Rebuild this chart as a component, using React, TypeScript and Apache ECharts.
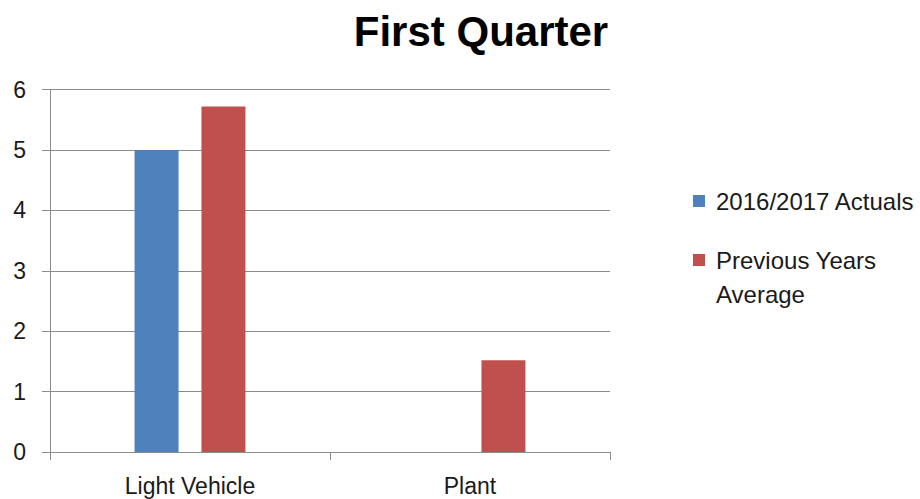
import React, { useEffect, useRef } from "react";
import * as echarts from "echarts";

const categories = ["Light Vehicle", "Plant"];
const actuals: (number | string)[] = [5, "-"];
const previousAvg = [5.72, 1.52];
const seriesNames = ["2016/2017 Actuals", "Previous Years"];
const yTicks = { min: 0, max: 6, interval: 1 };

const FONT = "'Liberation Sans', Arial, sans-serif";

export default function App() {
  const ref = useRef<HTMLDivElement>(null);
  useEffect(() => {
    if (!ref.current) return;
    const chart = echarts.init(ref.current, null, { renderer: "svg" });
    chart.setOption({
      animation: false,
      backgroundColor: "#ffffff",
      title: {
        text: "First Quarter",
        left: 476,
        top: 5,
        textAlign: "center",
        textStyle: { fontFamily: FONT, fontSize: 42, fontWeight: "bold", color: "#000" },
      },
      legend: {
        orient: "vertical",
        left: 693,
        top: 187,
        padding: 0,
        itemWidth: 12,
        itemHeight: 12,
        itemGap: 31,
        icon: "rect",
        data: seriesNames,
        textStyle: { fontFamily: FONT, fontSize: 24, color: "#1a1a1a", lineHeight: 28, padding: [0, 0, 0, 6] },
      },
      graphic: [
        {
          type: "text",
          x: 716,
          y: 294,
          style: { text: "Average", font: `24px ${FONT}`, fill: "#1a1a1a", verticalAlign: "middle" },
        },
      ],
      grid: { left: 50, right: 310, top: 89.5, bottom: 47, containLabel: false },
      xAxis: {
        type: "category",
        data: categories,
        axisLine: { lineStyle: { color: "#8c8c8c", width: 1 } },
        axisTick: { show: true, length: 8, lineStyle: { color: "#8c8c8c" } },
        axisLabel: { fontFamily: FONT, fontSize: 23, color: "#1a1a1a", margin: 22 },
      },
      yAxis: {
        type: "value",
        min: yTicks.min,
        max: yTicks.max,
        interval: yTicks.interval,
        axisLine: { show: true, lineStyle: { color: "#8c8c8c", width: 1 } },
        axisTick: { show: true, length: 8, lineStyle: { color: "#8c8c8c" } },
        splitLine: { lineStyle: { color: "#8c8c8c", width: 1 } },
        axisLabel: { fontFamily: FONT, fontSize: 23, color: "#1a1a1a", margin: 24 },
      },
      series: [
        {
          name: seriesNames[0],
          type: "bar",
          data: actuals,
          barWidth: 44,
          barGap: "52%",
          itemStyle: { color: "#4F81BD" },
        },
        {
          name: seriesNames[1],
          type: "bar",
          data: previousAvg,
          barWidth: 44,
          barGap: "52%",
          itemStyle: { color: "#C0504D" },
        },
      ],
    });
    return () => chart.dispose();
  }, []);
  return (
    <div
      ref={ref}
      style={{ position: "fixed", left: 0, top: 0, width: 920, height: 499, background: "#fff" }}
    />
  );
}
